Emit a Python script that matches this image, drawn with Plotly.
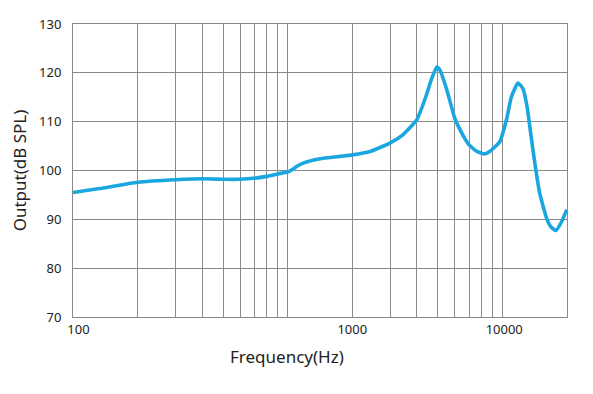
import plotly.graph_objects as go

# Frequency response data (Hz, dB SPL)
freq_hz = [100, 133, 201, 302, 403, 505, 599, 696, 800, 900, 1014, 1060, 1100, 1180, 1413, 1750,
           2000, 2416, 2992, 3438, 3993, 4352, 4694, 4951, 5115, 5512, 6004, 6540,
           6979, 7604, 8280, 8730, 9725, 10450, 11020, 11830, 12480, 13030, 13420,
           13810, 14320, 14930, 16050, 16790, 17780, 18910, 19950]
output_db = [95.5, 96.3, 97.6, 98.1, 98.3, 98.2, 98.2, 98.4, 98.8, 99.3, 99.8, 100.3, 100.8,
             101.5, 102.4, 102.9, 103.2, 103.9, 105.6, 107.3, 110.4, 114.5, 118.9, 121.2,
             120.6, 116.5, 110.7, 107.3, 105.3, 103.9, 103.4, 103.9, 105.9, 110.4,
             115.1, 117.9, 116.7, 113.1, 109.0, 104.9, 100.1, 95.3, 90.3, 88.5, 87.7,
             89.6, 92.0]

# Axis labelling (as printed on the original chart)
x_tick_vals = [106, 2000, 10200]
x_tick_text = ["100", "1000", "10000"]
x_grid_vals = [200, 300, 400, 500, 600, 700, 800, 900, 1000,
               2000, 3000, 4000, 5000, 6000, 7000, 8000, 9000, 10000]
y_tick_vals = [70, 80, 90, 100, 110, 120, 130]

grid_col = "#8a8a8a"
font_fam = "Noto Sans"

fig = go.Figure()
fig.add_trace(go.Scatter(
    x=freq_hz, y=output_db, mode="lines",
    line=dict(color="#1AA7E0", width=3.6, shape="spline", smoothing=0.5),
    hoverinfo="skip", showlegend=False,
))

fig.update_layout(
    width=593, height=394,
    margin=dict(l=65, r=34, t=16, b=85, autoexpand=False),
    paper_bgcolor="white", plot_bgcolor="white",
    font=dict(family=font_fam, color="#222222", size=13),
    annotations=[dict(
        text="Frequency(Hz)", xref="paper", yref="paper",
        x=0.433, y=-0.1365, xanchor="center", yanchor="middle",
        showarrow=False, font=dict(size=17, color="#222222"),
    )],
)
fig.update_xaxes(
    type="log", range=[2, 4.30103],
    tickvals=x_tick_vals, ticktext=x_tick_text,
    showgrid=False, zeroline=False,
    showline=True, mirror=True, linecolor=grid_col, linewidth=1,
    ticks="", tickfont=dict(size=13, color="#222222"),
    minor=dict(tickvals=x_grid_vals, showgrid=True, gridcolor=grid_col, gridwidth=1, ticks=""),
)
fig.update_yaxes(
    range=[70, 130], tickvals=y_tick_vals,
    showgrid=True, gridcolor=grid_col, gridwidth=1, zeroline=False,
    showline=True, mirror=True, linecolor=grid_col, linewidth=1,
    ticks="", ticklabelstandoff=8, tickfont=dict(size=13, color="#222222"),
    title=dict(text="Output(dB SPL)", font=dict(size=17, color="#222222"), standoff=12),
)

fig.write_html("out.html")
